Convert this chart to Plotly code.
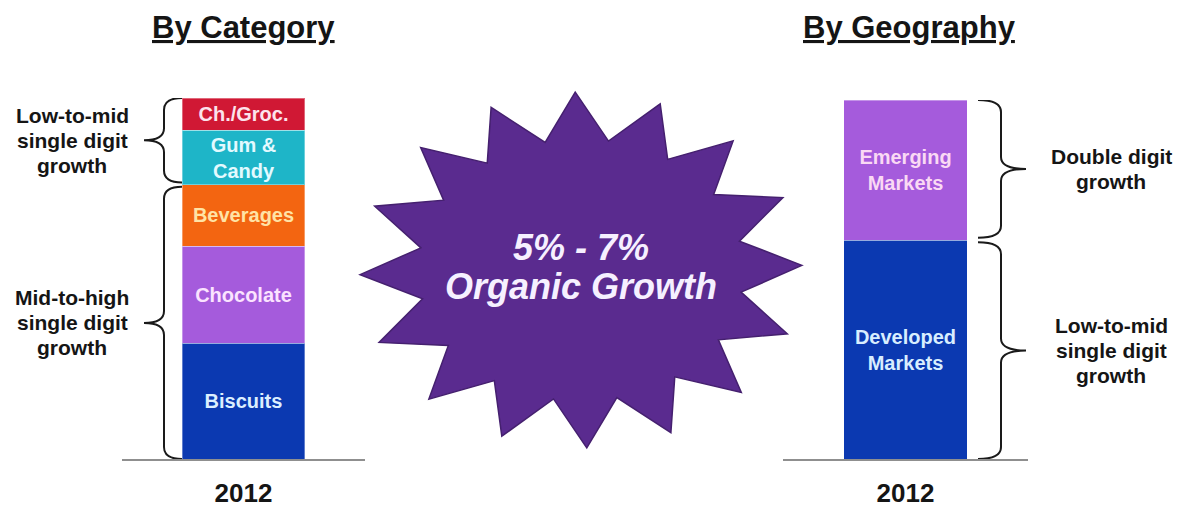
import math
import plotly.graph_objects as go

W, H = 1184, 508
FONT = "Liberation Sans, Arial, Helvetica, sans-serif"

# ---------------- data ----------------
years = ["2012"]

category_names = ["Biscuits", "Chocolate", "Beverages", "Gum & Candy", "Ch./Groc."]
category_labels = ["Biscuits", "Chocolate", "Beverages", "Gum &<br>Candy", "Ch./Groc."]
category_share = [32, 27, 17, 15, 9]
category_colors = ["#0B39B1", "#A55BDC", "#F36511", "#1EB5C8", "#D01834"]
category_text_colors = ["#DCEFFF", "#FBE3FF", "#FFE3A6", "#E3FAFF", "#FCE3EC"]

geo_names = ["Developed Markets", "Emerging Markets"]
geo_labels = ["Developed<br>Markets", "Emerging<br>Markets"]
geo_share = [61, 39]
geo_colors = ["#0B39B1", "#A55BDC"]
geo_text_colors = ["#D8EEFF", "#FAD9F4"]

category_growth = ["Mid-to-high<br>single digit<br>growth", "Low-to-mid<br>single digit<br>growth"]
category_groups = [3, 2]   # segments (bottom-up) covered by each brace
geo_growth = ["Low-to-mid<br>single digit<br>growth", "Double digit<br>growth"]
geo_groups = [1, 1]

panel_titles = ["By Category", "By Geography"]
headline = ["5% - 7%", "Organic Growth"]


def px(x):
    return x / W


def py(y):
    return 1 - y / H


fig = go.Figure()

panels = [
    dict(xa="x", ya="y", names=category_names, labels=category_labels, vals=category_share,
         colors=category_colors, tcolors=category_text_colors),
    dict(xa="x2", ya="y2", names=geo_names, labels=geo_labels, vals=geo_share,
         colors=geo_colors, tcolors=geo_text_colors),
]

for p in panels:
    for name, lab, val, col, tcol in zip(p["names"], p["labels"], p["vals"], p["colors"], p["tcolors"]):
        fig.add_trace(go.Bar(
            x=years, y=[val], name=name, text=[lab],
            width=1.01,
            marker=dict(color=col, line=dict(color="rgba(255,255,255,0.35)", width=1)),
            textposition="inside", insidetextanchor="middle", textangle=0,
            textfont=dict(color=tcol, size=20, family=FONT, weight="bold"),
            xaxis=p["xa"], yaxis=p["ya"], hoverinfo="skip", showlegend=False,
        ))

axis_common = dict(range=[-1, 1], showline=True, linecolor="#8F8F8F", linewidth=2,
                   showgrid=False, zeroline=False, ticks="", ticklabelstandoff=10,
                   automargin=False,
                   tickfont=dict(size=26, family=FONT, color="#151515", weight="bold"),
                   fixedrange=True)

fig.update_layout(
    width=W, height=H,
    margin=dict(l=0, r=0, t=0, b=0, pad=0, autoexpand=False),
    paper_bgcolor="white", plot_bgcolor="rgba(0,0,0,0)",
    barmode="stack", showlegend=False,
    uniformtext=dict(minsize=20, mode="show"),
    xaxis=dict(domain=[px(122), px(365)], anchor="y", **axis_common),
    yaxis=dict(domain=[py(459), py(98)], range=[0, 100], visible=False, fixedrange=True,
               automargin=False),
    xaxis2=dict(domain=[px(783), px(1028)], anchor="y2", **axis_common),
    yaxis2=dict(domain=[py(459), py(100)], range=[0, 100], visible=False, fixedrange=True,
                automargin=False),
)

# ---------------- braces and growth labels ----------------
def brace_path(x_end, x_mid, x_tip, y_lo, y_hi, r):
    ym = (y_lo + y_hi) / 2
    return (f"M {x_end},{y_hi} Q {x_mid},{y_hi} {x_mid},{y_hi - r} "
            f"L {x_mid},{ym + r} Q {x_mid},{ym} {x_tip},{ym} "
            f"Q {x_mid},{ym} {x_mid},{ym - r} L {x_mid},{y_lo + r} "
            f"Q {x_mid},{y_lo} {x_end},{y_lo}")


brace_specs = [
    dict(ya="y", vals=category_share, groups=category_groups, texts=category_growth,
         x_end=px(182), x_mid=px(164), x_tip=px(144), label_x=px(72), unit_px=(459 - 98) / 100),
    dict(ya="y2", vals=geo_share, groups=geo_groups, texts=geo_growth,
         x_end=px(978), x_mid=px(1001), x_tip=px(1026), label_x=px(1111), unit_px=(459 - 100) / 100),
]

LINE_GAP = 25
for b in brace_specs:
    start = 0
    base = 0.0
    r = 12 / b["unit_px"]
    gap = 0.6
    for g, txt in zip(b["groups"], b["texts"]):
        top = base + sum(b["vals"][start:start + g])
        lo = base + (gap if start > 0 else 0)
        hi = top - (gap if start + g < len(b["vals"]) else 0)
        fig.add_shape(type="path", xref="paper", yref=b["ya"],
                      path=brace_path(b["x_end"], b["x_mid"], b["x_tip"], lo, hi, r),
                      line=dict(color="#1A1A1A", width=2), fillcolor="rgba(0,0,0,0)")
        lines = txt.split("<br>")
        n = len(lines)
        for i, ln in enumerate(lines):
            fig.add_annotation(x=b["label_x"], y=(lo + hi) / 2, xref="paper", yref=b["ya"],
                               text=ln, showarrow=False, xanchor="center", yanchor="middle",
                               yshift=((n - 1) / 2 - i) * LINE_GAP,
                               font=dict(size=21, family=FONT, color="#151515", weight="bold"))
        base = top
        start += g

# ---------------- panel titles ----------------
for t, cx in zip(panel_titles, [243, 910]):
    fig.add_annotation(x=px(cx), y=py(27), xref="paper", yref="paper", text=f"<u>{t}</u>",
                       showarrow=False, xanchor="center", yanchor="middle",
                       font=dict(size=31, family=FONT, color="#151515", weight="bold"))

# ---------------- starburst ----------------
cx, cy, rx, ry = 581, 270, 221, 178
n_pts, inner, a0 = 16, 0.735, 1.5
pts = []
for k in range(2 * n_pts):
    ang = math.radians(a0 + k * 180 / n_pts)
    rr = 1.0 if k % 2 == 0 else inner
    pts.append((px(cx + rx * rr * math.cos(ang)), py(cy - ry * rr * math.sin(ang))))
path = "M " + " L ".join(f"{x:.5f},{y:.5f}" for x, y in pts) + " Z"
fig.add_shape(type="path", xref="paper", yref="paper", path=path,
              fillcolor="#5A2B8F", line=dict(color="#45206F", width=1.5), layer="below")

for txt, yy in zip(headline, [247, 286]):
    fig.add_annotation(x=px(cx), y=py(yy), xref="paper", yref="paper", text=txt,
                       showarrow=False, xanchor="center", yanchor="middle",
                       font=dict(size=36, family=FONT, color="#F6F0FF", weight="bold", style="italic"))

fig.write_html("out.html")
